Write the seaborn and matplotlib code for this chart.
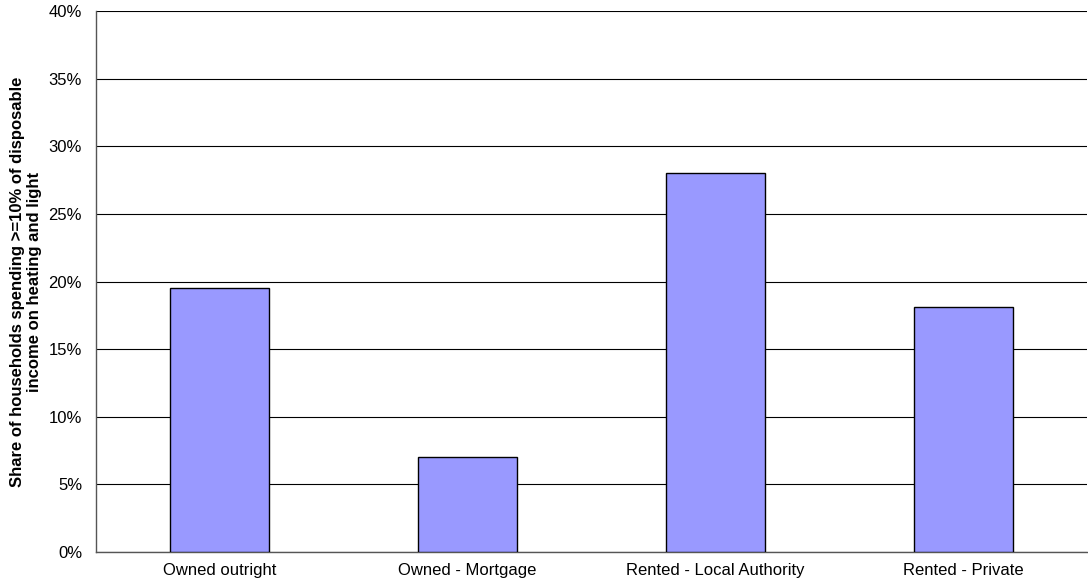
import matplotlib
matplotlib.use("Agg")
import matplotlib.pyplot as plt
import seaborn as sns
import pandas as pd
from matplotlib.ticker import FuncFormatter, MultipleLocator, FixedLocator

categories = ["Owned outright", "Owned - Mortgage", "Rented - Local Authority", "Rented - Private"]
values = [19.5, 7.0, 28.0, 18.1]
ylabel = "Share of households spending >=10% of disposable\nincome on heating and light"

sns.set_style("white")
plt.rcParams['font.family'] = ['Liberation Sans', 'DejaVu Sans']

df = pd.DataFrame({"category": categories, "value": values})

fig = plt.figure(figsize=(10.88, 5.86), dpi=100)
ax = fig.add_axes([96/1088, 1 - 552/586, 1 - 96/1088 - 0.001, (552 - 11)/586])

sns.barplot(data=df, x="category", y="value", color="#9999FF", saturation=1,
            width=0.4, edgecolor="black", linewidth=1.0, ax=ax, zorder=3)

ax.set_ylim(0, 40)
ax.set_xlim(-0.5, len(categories) - 0.5)
ax.yaxis.set_major_locator(MultipleLocator(5))
ax.yaxis.set_major_formatter(FuncFormatter(lambda v, p: f"{v:.0f}%"))
ax.grid(axis="y", color="#000000", linewidth=0.8, zorder=0)
ax.set_axisbelow(True)

for s in ["top", "right"]:
    ax.spines[s].set_visible(False)
for s in ["left", "bottom"]:
    ax.spines[s].set_color("#555555")
    ax.spines[s].set_linewidth(1.0)

ax.xaxis.set_minor_locator(FixedLocator([i - 0.5 for i in range(len(categories) + 1)]))
ax.tick_params(axis="x", which="major", length=0, labelsize=12, pad=8, labelcolor="black")
ax.tick_params(axis="x", which="minor", length=5, width=1, color="#555555", direction="out")
ax.tick_params(axis="y", which="major", length=5, width=1, color="#555555", direction="out",
               labelsize=12, pad=5, labelcolor="black")

ax.set_xlabel("")
ax.set_ylabel(ylabel, fontsize=12, fontweight="bold", labelpad=5, linespacing=1.1, color="black")

fig.savefig("out.png", dpi=100)
